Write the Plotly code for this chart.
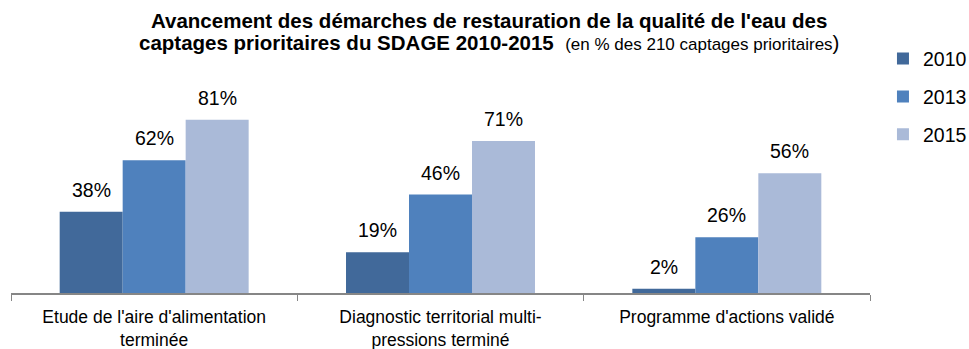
import plotly.graph_objects as go

# Data
categories = [
    "Etude de l'aire d'alimentation<br>terminée",
    "Diagnostic territorial multi-<br>pressions terminé",
    "Programme d'actions validé",
]
years = ["2010", "2013", "2015"]
values_2010 = [38, 19, 2]
values_2013 = [62, 46, 26]
values_2015 = [81, 71, 56]
series = [values_2010, values_2013, values_2015]
colors = ["#41699A", "#4F81BD", "#AABAD8"]

FONT = "Liberation Sans, Arial, sans-serif"
BARGAP = 0.34
bar_w = (1 - BARGAP) / len(series)

fig = go.Figure()
for name, vals, col in zip(years, series, colors):
    fig.add_trace(go.Bar(
        x=categories, y=vals, name=name,
        marker=dict(color=col, line=dict(width=0)),
        legendgroup=name,
        hoverinfo="skip",
    ))

# Percentage labels above each bar
annotations = []
for k, vals in enumerate(series):
    for i, v in enumerate(vals):
        annotations.append(dict(
            x=i + (k - 1) * bar_w, y=v, xref="x", yref="y",
            text=f"{v}%", showarrow=False, yanchor="bottom", yshift=9,
            font=dict(family=FONT, size=19.5, color="#000000"),
        ))

# Two-line centred title
annotations.append(dict(
    x=0.5565, y=1.2734, xref="paper", yref="paper", xanchor="center", yanchor="middle",
    showarrow=False,
    text="<b>Avancement des démarches de restauration de la qualité de l'eau des</b>",
    font=dict(family=FONT, size=20.5, color="#000000"),
))
annotations.append(dict(
    x=0.5565, y=1.1715, xref="paper", yref="paper", xanchor="center", yanchor="middle",
    showarrow=False,
    text="<b>captages prioritaires du SDAGE 2010-2015</b>&nbsp;&nbsp;"
         "<span style='font-size:17px'>(en % des 210 captages prioritaires</span>)",
    font=dict(family=FONT, size=20.5, color="#000000"),
))

fig.update_layout(
    width=969, height=349,
    margin=dict(l=11, r=99, t=79, b=56, autoexpand=False),
    paper_bgcolor="white", plot_bgcolor="white",
    barmode="group", bargap=BARGAP, bargroupgap=0,
    showlegend=True,
    legend=dict(
        x=1.0151, y=1.185, xanchor="left", yanchor="top",
        font=dict(family=FONT, size=19.5, color="#000000"),
        traceorder="grouped", tracegroupgap=9.5,
        bgcolor="rgba(0,0,0,0)", itemwidth=30,
    ),
    annotations=annotations,
    xaxis=dict(
        type="category", tickson="boundaries",
        showline=True, linecolor="#868686", linewidth=2,
        ticks="outside", ticklen=6, tickcolor="#868686", tickwidth=1,
        ticklabelstandoff=7,
        tickfont=dict(family=FONT, size=17.5, color="#000000"),
        showgrid=False, zeroline=False, fixedrange=True,
    ),
    yaxis=dict(
        range=[0, 100], visible=False, showgrid=False, zeroline=False,
        fixedrange=True,
    ),
)

fig.write_html("out.html", config={"displayModeBar": False})
